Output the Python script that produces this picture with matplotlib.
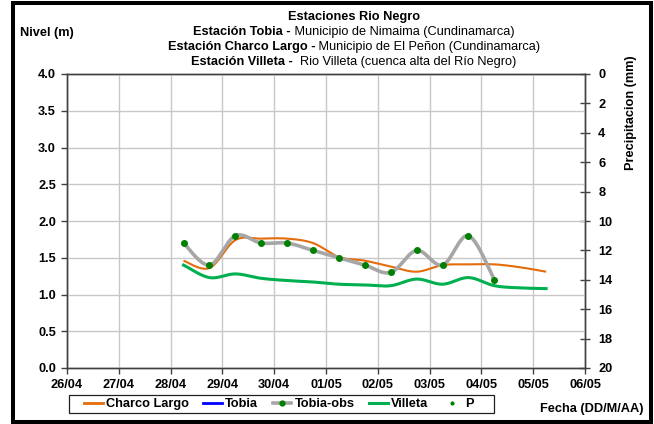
import numpy as np
import pandas as pd
import matplotlib
matplotlib.use('Agg')
import matplotlib.pyplot as plt
import matplotlib.dates as mdates
from matplotlib.lines import Line2D
from matplotlib.patches import Rectangle
from matplotlib.ticker import FixedLocator, FormatStrFormatter

plt.rcParams['font.family'] = ['Liberation Sans', 'DejaVu Sans']

# ---------------- data ----------------
obs_times = pd.date_range('2011-04-28 06:00', periods=13, freq='12h')
tobia_obs = [1.7, 1.4, 1.8, 1.7, 1.7, 1.6, 1.5, 1.4, 1.3, 1.6, 1.4, 1.8, 1.2]

level_times = pd.date_range('2011-04-28 06:00', periods=15, freq='12h')
charco_largo = [1.46, 1.36, 1.74, 1.76, 1.76, 1.70, 1.51, 1.46, 1.38, 1.31,
                1.40, 1.41, 1.41, 1.37, 1.31]
villeta = [1.40, 1.23, 1.28, 1.22, 1.19, 1.17, 1.14, 1.13, 1.12, 1.21,
           1.14, 1.23, 1.12, 1.09, 1.08]
tobia = []      # no data plotted
precip = []     # no data plotted

day_ticks = pd.date_range('2011-04-26', '2011-05-06', freq='D')
level_ticks = [0.0, 0.5, 1.0, 1.5, 2.0, 2.5, 3.0, 3.5, 4.0]
precip_ticks = [0, 2, 4, 6, 8, 10, 12, 14, 16, 18, 20]

title_lines = [
    [("Estaciones Rio Negro", 'bold')],
    [("Estación Tobia -", 'bold'), (" Municipio de Nimaima (Cundinamarca)", 'normal')],
    [("Estación Charco Largo -", 'bold'), (" Municipio de El Peñon (Cundinamarca)", 'normal')],
    [("Estación Villeta -", 'bold'), ("  Rio Villeta (cuenca alta del Río Negro)", 'normal')],
]

# ---------------- helpers ----------------
W, H = 654, 424
FS = 9.2


def fx(x):
    return x / W


def fy(y):
    return 1 - y / H


def smooth(x, y, n=30):
    x = np.asarray(x, float)
    y = np.asarray(y, float)
    if len(x) < 3:
        return x, y
    P = np.column_stack([x, y])
    P = np.vstack([P[0], P, P[-1]])
    t = np.linspace(0, 1, n, endpoint=False)[:, None]
    h00 = 2 * t**3 - 3 * t**2 + 1
    h10 = t**3 - 2 * t**2 + t
    h01 = -2 * t**3 + 3 * t**2
    h11 = t**3 - t**2
    out = []
    for i in range(1, len(P) - 2):
        p0, p1, p2, p3 = P[i - 1], P[i], P[i + 1], P[i + 2]
        m1 = (p2 - p0) / 2
        m2 = (p3 - p1) / 2
        out.append(h00 * p1 + h10 * m1 + h01 * p2 + h11 * m2)
    out.append(P[-2][None, :])
    out = np.vstack(out)
    return out[:, 0], out[:, 1]


# ---------------- figure ----------------
fig = plt.figure(figsize=(W / 100, H / 100), dpi=100)
fig.patch.set_facecolor('white')

ax = fig.add_axes([fx(67), fy(368), (585 - 67) / W, (368 - 74) / H])
ax.set_zorder(2)
ax.patch.set_visible(False)
ax2 = ax.twinx()
ax2.set_zorder(1)

ox = mdates.date2num(obs_times)
lx = mdates.date2num(level_times)

sx, sy = smooth(lx, charco_largo)
ax.plot(sx, sy, color='#E46C0A', lw=1.5, solid_capstyle='butt', zorder=3)
sx, sy = smooth(ox, tobia_obs)
ax.plot(sx, sy, color='#A6A6A6', lw=2.6, zorder=4)
ax.plot(ox, tobia_obs, ls='none', marker='o', ms=4, color='#008000', zorder=6)
sx, sy = smooth(lx, villeta)
ax.plot(sx, sy, color='#00B050', lw=2.2, zorder=5)

ax.set_xlim(mdates.date2num(day_ticks[0]), mdates.date2num(day_ticks[-1]))
ax.set_ylim(0, 4)
ax.xaxis.set_major_locator(FixedLocator(mdates.date2num(day_ticks)))
ax.xaxis.set_major_formatter(mdates.DateFormatter('%d/%m'))
ax.yaxis.set_major_locator(FixedLocator(level_ticks))
ax.yaxis.set_major_formatter(FormatStrFormatter('%.1f'))
ax.grid(True, color='#C8C8C8', lw=1.0, zorder=0)
ax.set_axisbelow(True)

ax2.set_ylim(20, 0)
ax2.yaxis.set_major_locator(FixedLocator(precip_ticks))
ax2.grid(False)

for a in (ax, ax2):
    for s in a.spines.values():
        s.set_color('#404040')
        s.set_linewidth(1.0)
ax.tick_params(axis='both', direction='out', length=4, width=1, color='#404040',
               labelsize=FS, pad=4)
ax2.tick_params(axis='y', direction='inout', length=7, width=1, color='#404040',
                labelsize=FS, pad=6)
for lab in ax.get_xticklabels() + ax.get_yticklabels() + ax2.get_yticklabels():
    lab.set_fontweight('bold')

# ---------------- texts ----------------
fig.text(fx(20), fy(33), 'Nivel (m)', ha='left', va='center', fontsize=FS, fontweight='bold')
fig.text(fx(631), fy(113), 'Precipitacion (mm)', ha='center', va='center', rotation=90,
         fontsize=FS, fontweight='bold')
fig.text(fx(643), fy(409), 'Fecha (DD/M/AA)', ha='right', va='center', fontsize=FS,
         fontweight='bold')

renderer = fig.canvas.get_renderer()
line_y = [17, 32, 47, 62]
cx = 354
for runs, yy in zip(title_lines, line_y):
    texts = [fig.text(0, fy(yy), s, ha='left', va='center', fontsize=FS, fontweight=w)
             for s, w in runs]
    widths = [t.get_window_extent(renderer).width for t in texts]
    x0 = cx - sum(widths) / 2
    for t, wdt in zip(texts, widths):
        t.set_x(fx(x0))
        x0 += wdt

# ---------------- legend ----------------
handles = [
    Line2D([], [], color='#E46C0A', lw=2),
    Line2D([], [], color='#0000FF', lw=2),
    Line2D([], [], color='#A6A6A6', lw=2.6, marker='o', ms=3.5,
           mfc='#008000', mec='#008000'),
    Line2D([], [], color='#00B050', lw=2.2),
    Line2D([], [], ls='none', marker='o', ms=2, color='#008000'),
]
labels = ['Charco Largo', 'Tobia', 'Tobia-obs', 'Villeta', 'P']
leg = fig.legend(handles, labels, ncol=5, loc='center left',
                 bbox_to_anchor=(fx(84), fy(404)), frameon=False,
                 prop={'size': FS, 'weight': 'bold'}, handlelength=1.45,
                 handletextpad=0.25, columnspacing=1.15, borderpad=0,
                 borderaxespad=0)
fig.add_artist(Rectangle((fx(69), fy(413)), (494 - 69) / W, (413 - 395) / H,
                         transform=fig.transFigure, fill=False, ec='#202020', lw=0.9))

# outer frame
fig.add_artist(Rectangle((fx(13), fy(422)), (650.5 - 13) / W, (422 - 3) / H,
                         transform=fig.transFigure, fill=False, ec='black', lw=2.9))

fig.savefig('out.png', dpi=100)
